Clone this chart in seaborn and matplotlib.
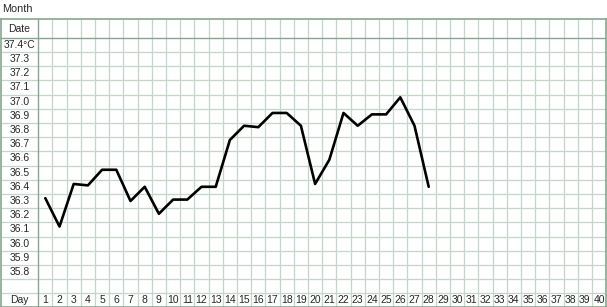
import matplotlib
matplotlib.use("Agg")
import matplotlib.pyplot as plt
import seaborn as sns
import numpy as np
import pandas as pd

# ---- data ----
days = list(range(1, 29))
temps = [36.32, 36.12, 36.42, 36.41, 36.52, 36.52, 36.30, 36.40, 36.21, 36.31,
         36.31, 36.40, 36.40, 36.73, 36.83, 36.82, 36.92, 36.92, 36.83, 36.42,
         36.59, 36.92, 36.83, 36.91, 36.91, 37.03, 36.83, 36.40]
temp_labels = ["37.4°C", "37.3", "37.2", "37.1", "37.0", "36.9", "36.8", "36.7",
               "36.6", "36.5", "36.4", "36.3", "36.2", "36.1", "36.0", "35.9", "35.8"]
temp_levels = [37.4, 37.3, 37.2, 37.1, 37.0, 36.9, 36.8, 36.7, 36.6, 36.5,
               36.4, 36.3, 36.2, 36.1, 36.0, 35.9, 35.8]
day_labels = [str(d) for d in range(1, 41)]
title_text = "Month"
date_label = "Date"
day_row_label = "Day"

df = pd.DataFrame({"day": days, "temp": temps})

sns.set_style("white")
plt.rcParams["font.family"] = ["Liberation Sans", "DejaVu Sans"]

W, H = 607, 307
fig = plt.figure(figsize=(W / 100, H / 100), dpi=100)

# geometry in pixels
col_w = 14.2
left_col_w = 37.4
row_h = 14.2
grid_top = 19.3
grid_bottom = 306.6
date_row_h = 18.4
n_days = 40

x_lo = 0.5 - left_col_w / col_w
x_hi = n_days + 0.5
top_T = 37.45 + date_row_h / (row_h * 10)
bottom_T = 35.65 - (grid_bottom - grid_top - date_row_h - 18 * row_h) / (row_h * 10)

ax_w_px = (x_hi - x_lo) * col_w
ax = fig.add_axes([0.8 / W, 1 - grid_bottom / H, ax_w_px / W, (grid_bottom - grid_top) / H])
ax.set_xlim(x_lo, x_hi)
ax.set_ylim(bottom_T, top_T)

light = "#c4d6c9"
dark = "#86a68f"

# grid lines
for xv in np.arange(1.5, n_days + 0.5, 1.0):
    ax.axvline(xv, color=light, lw=0.9, zorder=1)
hl = [37.45 - 0.1 * k for k in range(1, 19)]
for yv in hl:
    ax.axhline(yv, color=light, lw=0.9, zorder=1)
ax.axvline(0.5, color=dark, lw=1.0, zorder=2)
ax.axhline(37.45, color=dark, lw=1.0, zorder=2)

for s in ax.spines.values():
    s.set_color(dark)
    s.set_linewidth(1.2)
ax.set_xticks([])
ax.set_yticks([])

sns.lineplot(data=df, x="day", y="temp", color="black", lw=1.9, ax=ax, zorder=5)
ax.set_xlabel("")
ax.set_ylabel("")

fs = 7.5
lx = x_lo + (0.5 - x_lo) / 2
ax.text(lx, (top_T + 37.45) / 2, date_label, ha="center", va="center", fontsize=fs)
for lab, lv in zip(temp_labels, temp_levels):
    ax.text(lx, lv, lab, ha="center", va="center", fontsize=fs)
day_y = (35.65 + bottom_T) / 2
ax.text(lx, day_y, day_row_label, ha="center", va="center", fontsize=fs)
for i, lab in enumerate(day_labels):
    ax.text(i + 1, day_y, lab, ha="center", va="center", fontsize=fs)

fig.text(2.5 / W, 1 - 9 / H, title_text, ha="left", va="center", fontsize=7.8)

fig.savefig("out.png", dpi=100)
